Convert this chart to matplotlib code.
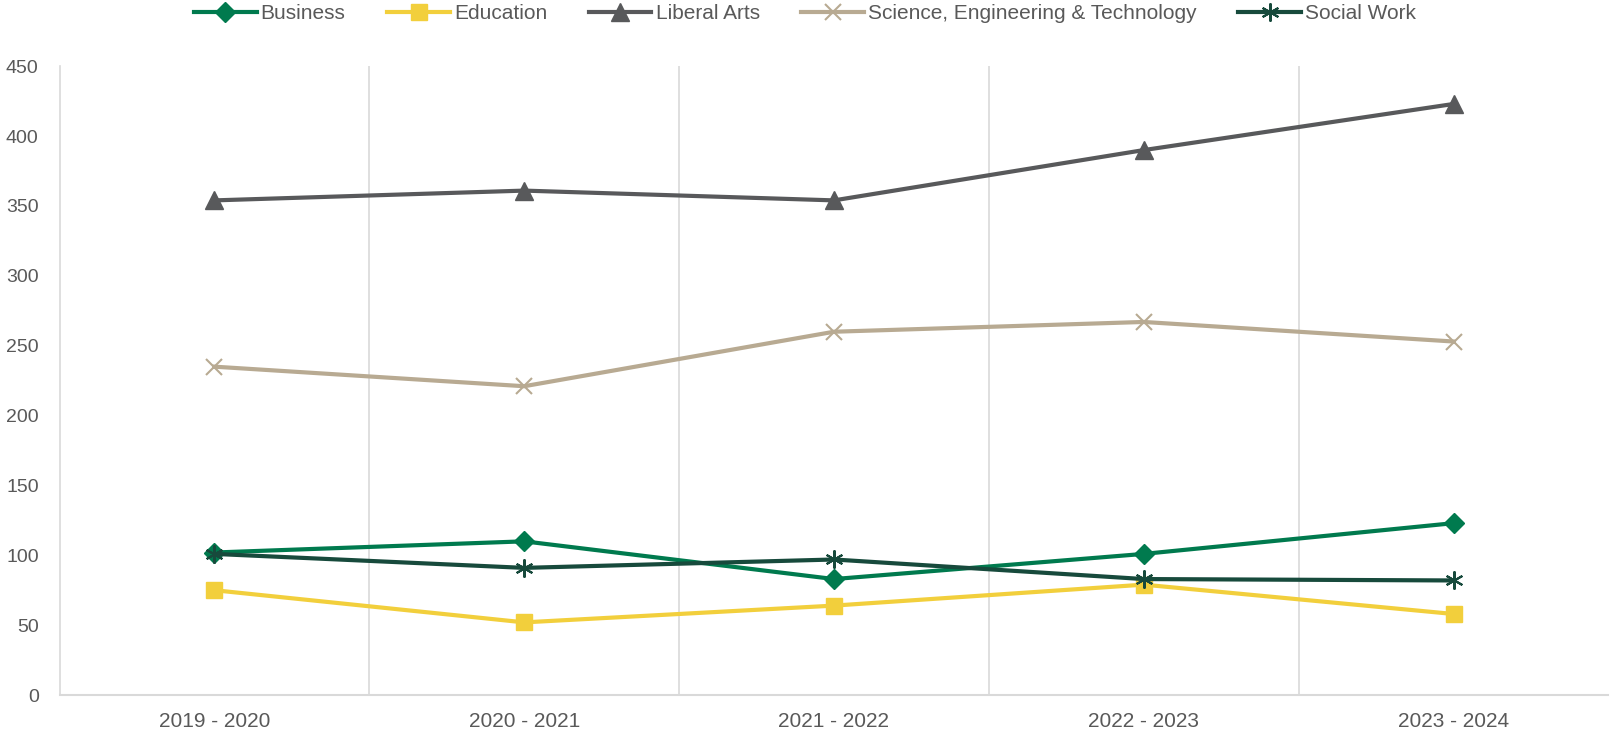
import matplotlib
matplotlib.use("Agg")
import matplotlib.pyplot as plt

years = ["2019 - 2020", "2020 - 2021", "2021 - 2022", "2022 - 2023", "2023 - 2024"]
business = [102, 110, 83, 101, 123]
education = [75, 52, 64, 79, 58]
liberal_arts = [354, 361, 354, 390, 423]
set_values = [235, 221, 260, 267, 253]
social_work = [101, 91, 97, 83, 82]

plt.rcParams['font.family'] = ['Liberation Sans', 'DejaVu Sans']
txt = '#595959'

fig = plt.figure(figsize=(16.1, 7.32), dpi=100)
ax = fig.add_axes([0.037, 0.0505, 0.962, 0.859])

x = range(len(years))
series = [
    ("Business", business, '#007A4E', 'D', 10),
    ("Education", education, '#F2CF3C', 's', 12),
    ("Liberal Arts", liberal_arts, '#58595B', '^', 13),
    ("Science, Engineering & Technology", set_values, '#B8AA92', 'x', 11),
    ("Social Work", social_work, '#174A3C', (6, 2, 0), 13),
]
for name, vals, col, mk, ms in series:
    ax.plot(x, vals, color=col, lw=3, marker=mk, markersize=ms,
            markeredgewidth=1.5 if mk in ('x', (6, 2, 0)) else 1, label=name)

ax.set_xlim(-0.5, 4.5)
ax.set_ylim(0, 450)
ax.set_yticks(range(0, 451, 50))
ax.set_xticks(list(x))
ax.set_xticklabels(years)
for b in [0.5, 1.5, 2.5, 3.5]:
    ax.axvline(b, color='#D9D9D9', lw=1.2, zorder=0)

for s in ['top', 'right']:
    ax.spines[s].set_visible(False)
ax.spines['left'].set_color('#D9D9D9')
ax.spines['bottom'].set_color('#D9D9D9')
ax.spines['left'].set_linewidth(1.2)
ax.spines['bottom'].set_linewidth(1.5)
ax.tick_params(axis='both', length=0, colors=txt)
ax.tick_params(axis='y', labelsize=14, pad=15)
ax.tick_params(axis='x', labelsize=15, pad=12)

leg = fig.legend(loc='upper center', bbox_to_anchor=(0.5, 1.02), ncol=5, frameon=False,
                 fontsize=15, handlelength=3.0, columnspacing=2.0, handletextpad=0.2)
for t in leg.get_texts():
    t.set_color(txt)

fig.savefig("out.png", dpi=100)
